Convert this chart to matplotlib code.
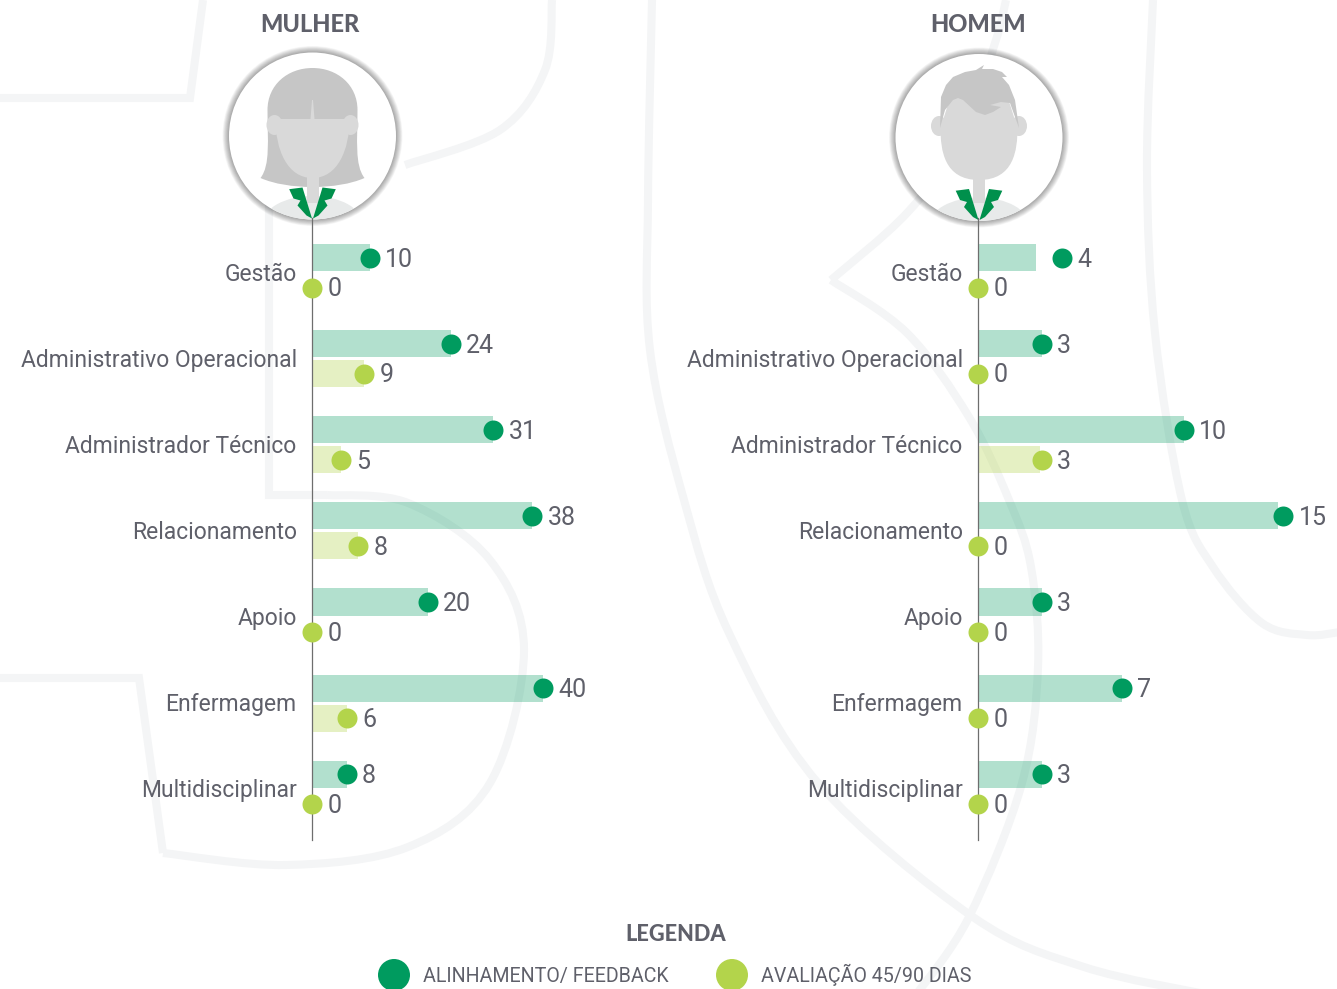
import matplotlib
matplotlib.use('Agg')
import matplotlib.pyplot as plt
from matplotlib.patches import Circle, Ellipse, PathPatch, Polygon
from matplotlib.path import Path

plt.rcParams['font.family'] = ['Roboto', 'DejaVu Sans']

categorias = ['Gestão', 'Administrativo Operacional', 'Administrador Técnico', 'Relacionamento',
              'Apoio', 'Enfermagem', 'Multidisciplinar']
mulher_alinhamento = [10, 24, 31, 38, 20, 40, 8]
mulher_avaliacao = [0, 9, 5, 8, 0, 6, 0]
homem_alinhamento = [4, 3, 10, 15, 3, 7, 3]
homem_avaliacao = [0, 0, 3, 0, 0, 0, 0]
# no original as barras nao seguem bem a escala: comprimentos
mulher_barra = [10, 24, 31.4, 38.1, 20, 40, 6]
homem_barra = [2.85, 3.1, 10.05, 14.9, 3.1, 7.0, 3.1]
homem_ponto = [4.1, 3.1, 10.05, 14.9, 3.1, 7.0, 3.1]
homem_aval_barra = [0, 0, 3.0, 0, 0, 0, 0]
homem_aval_ponto = [0, 0, 3.1, 0, 0, 0, 0]

VERDE = '#009b5f'
VERDE_CLARO = '#b3d44b'
TEXTO = '#5f606a'
MARCA = '#f4f5f6'

W, H = 1337, 989
fig = plt.figure(figsize=(W / 100, H / 100), dpi=100, facecolor='white')
bg = fig.add_axes([0, 0, 1, 1])
bg.set_xlim(0, W)
bg.set_ylim(H, 0)
bg.axis('off')


def traco(pts):
    # marca d'agua do fundo: curva suave passando pelos pontos (pixels)
    verts = [pts[0]]
    codes = [Path.MOVETO]
    for i in range(len(pts) - 1):
        p0 = pts[max(i - 1, 0)]
        p1 = pts[i]
        p2 = pts[i + 1]
        p3 = pts[min(i + 2, len(pts) - 1)]
        verts.append((p1[0] + (p2[0] - p0[0]) / 6, p1[1] + (p2[1] - p0[1]) / 6))
        verts.append((p2[0] - (p3[0] - p1[0]) / 6, p2[1] - (p3[1] - p1[1]) / 6))
        verts.append(p2)
        codes += [Path.CURVE4] * 3
    bg.add_patch(PathPatch(Path(verts, codes), fill=False, ec=MARCA, lw=5.8, capstyle='butt'))


def reta(pts):
    bg.plot([p[0] for p in pts], [p[1] for p in pts], color=MARCA, lw=5.8, solid_joinstyle='miter',
            solid_capstyle='butt')


reta([(203, 0), (190, 98), (0, 98)])
traco([(552, 0), (545, 70), (500, 130), (405, 165)])
reta([(269, 200), (269, 495), (327, 495)])
traco([(327, 495), (408, 503), (490, 560), (524, 650), (490, 783), (408, 847), (286, 865), (163, 853)])
reta([(163, 853), (139, 678), (0, 678)])
traco([(652, 0), (648, 200), (650, 350), (684, 500), (729, 633), (818, 783), (973, 917), (1084, 967), (1210, 995)])
traco([(1006, 0), (995, 43), (960, 140), (907, 213), (831, 280)])
traco([(831, 280), (907, 333), (969, 417), (1009, 500), (1031, 567), (1038, 667), (1022, 783), (969, 917), (916, 995)])
traco([(1153, 0), (1147, 167), (1155, 333), (1182, 500), (1213, 567), (1262, 623), (1307, 635), (1340, 632)])


def avatar(cx, cy, homem):
    # sombra: mais escura junto do disco
    for i in range(12):
        bg.add_patch(Circle((cx, cy), 90 - i * 0.55, fc='#000000', ec='none', alpha=0.03, zorder=2))
    disco = Circle((cx, cy), 83.5, fc='white', ec='none', zorder=3)
    bg.add_patch(disco)
    pele = '#d9d9d9'
    cabelo = '#c6c6c6'

    def px(p):
        return [(cx + a, b) for a, b in p]

    M, L, C4 = Path.MOVETO, Path.LINETO, Path.CURVE4
    camisa = Ellipse((cx, cy + 88), 100, 56, fc='#e8eaea', ec='none', zorder=4)
    bg.add_patch(camisa)
    camisa.set_clip_path(disco)
    if not homem:
        p = Path(px([(-52, 178), (-42, 165), (-45, 140), (-45, 110), (-45, 85), (-25, 68), (0, 68), (25, 68), (45, 85),
                     (45, 110), (45, 140), (42, 165), (52, 178), (25, 190), (-25, 190), (-52, 178)]),
                 [M] + [C4] * 15)
        bg.add_patch(PathPatch(p, fc=cabelo, ec='none', zorder=4))
        bg.add_patch(Polygon(px([(-6, 170), (6, 170), (6, 203), (-6, 203)]), fc=pele, ec='none', zorder=5))
        for s in (-1, 1):
            bg.add_patch(Ellipse((cx + s * 38, 125), 16, 20, fc=pele, ec='none', zorder=5))
        f = Path(px([(-37, 119), (37, 119), (37, 150), (25, 178), (0, 178), (-25, 178), (-37, 150), (-37, 119)]),
                 [M, L, C4, C4, C4, C4, C4, C4])
        bg.add_patch(PathPatch(f, fc=pele, ec='none', zorder=6))
        bg.add_patch(Polygon(px([(-0.5, 100), (0.5, 100), (2, 119), (-2, 119)]), fc=pele, ec='none', zorder=7))
        dy = -1.5
    else:
        for s in (-1, 1):
            bg.add_patch(Ellipse((cx + s * 40, 126), 16, 20, fc=pele, ec='none', zorder=4))
        bg.add_patch(Polygon(px([(-6, 170), (6, 170), (6, 203), (-6, 203)]), fc=pele, ec='none', zorder=4))
        f = Path(px([(-28, 95), (28, 95), (38.5, 128), (38.5, 150), (35, 180), (0, 180), (-35, 180), (-38.5, 150),
                     (-38.5, 128), (-28, 95)]),
                 [M, L, L, C4, C4, C4, C4, C4, C4, L])
        bg.add_patch(PathPatch(f, fc=pele, ec='none', zorder=5))
        bg.add_patch(Polygon(px([(-39, 128), (-38, 97), (-33, 85), (-26, 77), (-14, 72), (-3, 70), (5, 65), (3, 69),
                                 (14, 69), (23, 72), (28, 77), (23, 77), (30, 85), (36, 100), (40, 128), (31, 103),
                                 (22, 102), (11, 105), (22, 107), (14, 112), (6, 115), (-3, 112), (-16, 100),
                                 (-21, 98), (-26, 100), (-34, 110)]),
                             fc=cabelo, ec='none', zorder=6))
        dy = 0
    # lapela verde
    for s in (-1, 1):
        g = [(s * 23.3, 190.7 + dy), (s * 10, 189 + dy), (s * 0.5, 220 + dy), (s * 6, 217 + dy), (s * 15, 207 + dy),
             (s * 12, 202 + dy), (s * 19, 200 + dy)]
        bg.add_patch(Polygon(px(g), fc='#00904c', ec='none', zorder=8))


avatar(312.5, 136, False)
avatar(979, 137.5, True)


def painel(x_eixo, escala, barra, ponto, aval_barra, aval_ponto, rot_a, rot_b, titulo, x_titulo):
    topo, base = 218, 840
    passo = 86.08
    ax = fig.add_axes([x_eixo / W, 1 - base / H, 300 / W, (base - topo) / H])
    ax.patch.set_alpha(0)
    ax.set_xlim(0, 300 / escala)
    ax.set_ylim((base - 271.7) / passo, (topo - 271.7) / passo)
    for lado in ('top', 'right', 'bottom'):
        ax.spines[lado].set_visible(False)
    ax.spines['left'].set_color('#6e6e6e')
    ax.spines['left'].set_linewidth(0.9)
    ax.set_xticks([])
    ax.set_yticks(range(len(categorias)))
    ax.set_yticklabels(categorias, fontsize=16.5, color=TEXTO)
    ax.tick_params(axis='y', length=0, pad=11)
    for i in range(len(categorias)):
        y1, y2 = i - 0.163, i + 0.186
        ax.barh(y1, barra[i], height=0.314, color=VERDE, alpha=0.3, linewidth=0, zorder=2)
        ax.barh(y2, aval_barra[i], height=0.314, color=VERDE_CLARO, alpha=0.33, linewidth=0, zorder=2)
        ax.scatter(ponto[i], y1, s=207, color=VERDE, linewidths=0, zorder=4, clip_on=False)
        ax.scatter(aval_ponto[i], y2, s=207, color=VERDE_CLARO, linewidths=0, zorder=4, clip_on=False)
        ax.annotate(str(rot_a[i]), (ponto[i], y1), xytext=(11, -1.5), textcoords='offset points', fontsize=18,
                    color=TEXTO, va='center', annotation_clip=False)
        ax.annotate(str(rot_b[i]), (aval_ponto[i], y2), xytext=(11, -1.2), textcoords='offset points', fontsize=18,
                    color=TEXTO, va='center', annotation_clip=False)
    bg.text(x_titulo, 24, titulo, ha='center', va='center', fontsize=17, fontweight='black', color=TEXTO,
            family=['Lato', 'DejaVu Sans'])
    return ax


painel(312, 5.78, mulher_barra, mulher_barra, mulher_avaliacao, mulher_avaliacao,
       mulher_alinhamento, mulher_avaliacao, 'MULHER', 310)
painel(978, 20.5, homem_barra, homem_ponto, homem_aval_barra, homem_aval_ponto,
       homem_alinhamento, homem_avaliacao, 'HOMEM', 978.5)

# legenda
bg.text(675.5, 934.5, 'LEGENDA', ha='center', va='center', fontsize=15.7, fontweight='black', color=TEXTO,
        family=['Lato', 'DejaVu Sans'])
bg.add_patch(Circle((394, 975), 16, fc=VERDE, ec='none'))
bg.add_patch(Circle((732, 975), 16, fc=VERDE_CLARO, ec='none'))
bg.text(423, 982, 'ALINHAMENTO/ FEEDBACK', ha='left', va='baseline', fontsize=14.1, color=TEXTO)
bg.text(761, 982, 'AVALIAÇÃO 45/90 DIAS', ha='left', va='baseline', fontsize=14.1, color=TEXTO)

fig.savefig('out.png', dpi=100, facecolor='white')
